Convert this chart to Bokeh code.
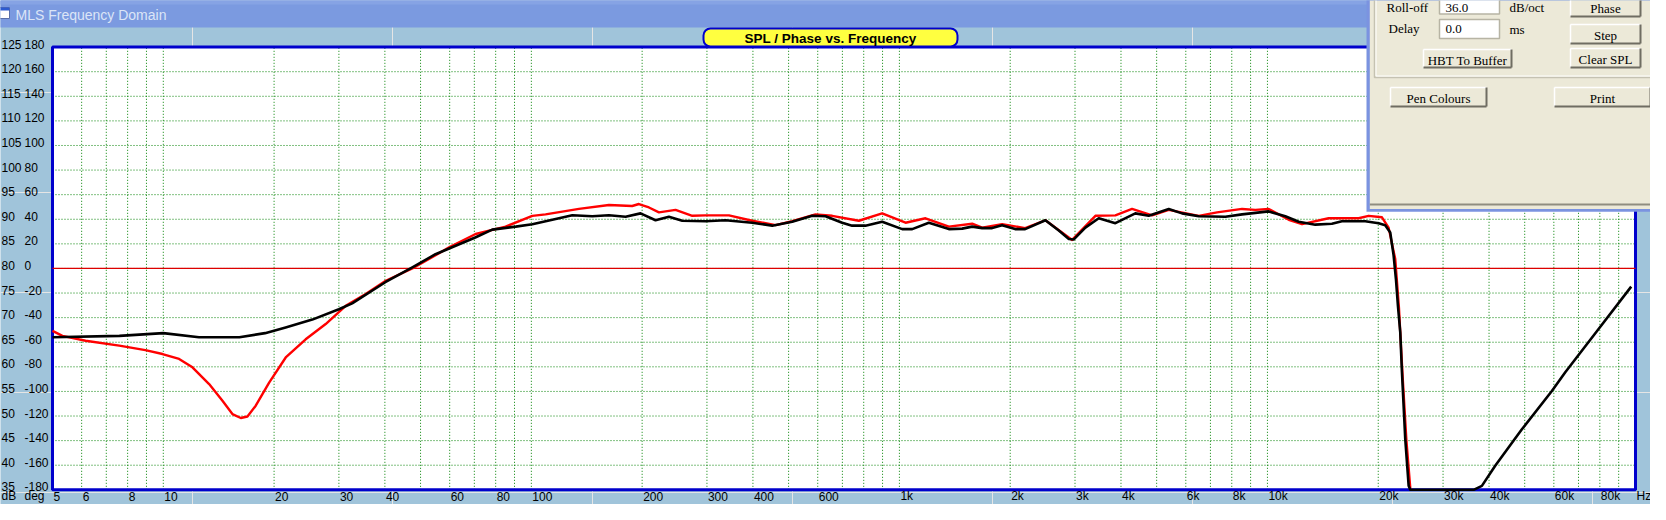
import math
from bokeh.plotting import figure
from bokeh.models import Range1d, LogScale
from bokeh.core.properties import value
from bokeh.embed import file_html
from bokeh.resources import INLINE

# ---------------- data ----------------
black_freq = [5.0, 7.6, 10.0, 12.5, 16.1, 18.9, 21.5, 25.4, 30.0, 32.6, 40.1, 47.5, 54.9, 70.4, 78.3,
              90.7, 100.6, 118.9, 129.2, 146.4, 162.5, 180.3, 198.0, 217.5, 236.5, 257.0, 297.4, 337.0,
              398.1, 451.4, 511.3, 579.5, 629.9, 699.0, 744.0, 808.6, 897.8, 1017.8, 1083.5, 1202.3,
              1362.8, 1481.2, 1576.7, 1678.6, 1786.3, 1901.2, 2062.5, 2195.7, 2492.9, 2710.6, 2886.5,
              2977.7, 3200.8, 3480.9, 3861.8, 4375.6, 4758.1, 5393.4, 5860.5, 6505.7, 7685.5, 8531.7,
              10079, 11183, 12162, 13490, 14968, 15929, 18434, 20050, 20894, 21559, 22021, 22343, 22623,
              22954, 23199, 23684, 24192, 24438, 36319, 38250, 41575, 49126, 59263, 64442, 79381, 97350]
black_db = [66.0, 66.3, 66.85, 66.0, 66.0, 66.85, 68.0, 69.6, 71.7, 72.9, 77.2, 80.2, 82.9, 86.3, 87.9,
            88.5, 89.0, 90.2, 90.8, 90.6, 90.8, 90.5, 91.2, 89.8, 90.5, 89.7, 89.6, 89.8,
            89.3, 88.7, 89.5, 90.7, 90.6, 89.3, 88.7, 88.7, 89.5, 88.0, 88.0, 89.3,
            88.0, 88.1, 88.5, 88.2, 88.2, 88.8, 88.0, 88.0, 89.8, 87.7, 86.0,
            85.9, 88.3, 90.2, 89.2, 91.2, 90.7, 92.1, 91.2, 90.6, 90.5, 91.0,
            91.6, 90.6, 89.5, 88.9, 89.1, 89.6, 89.6, 89.2, 88.8, 87.3, 82.6, 77.8, 72.4,
            67.0, 58.9, 45.3, 35.8, 35.0, 35.0, 35.8, 39.9, 47.3, 55.1, 58.9, 67.7, 76.3]

red_freq = [5.0, 5.32, 6.15, 7.59, 8.94, 9.95, 11.04, 12.0, 13.32, 14.48, 15.41, 16.24, 16.93, 17.83,
            19.39, 21.51, 24.37, 27.62, 31.30, 35.47, 40.21, 47.51, 56.15, 59.77, 70.58, 85.1, 100.6,
            109.3, 134.7, 162.5, 187.9, 196.0, 208.7, 222.2, 246.5, 273.7, 297.4, 344.3, 398.1, 460.9,
            511.3, 591.5, 656.7, 776.0, 897.8, 1039.2, 1177.5, 1362.8, 1576.7, 1678.6, 1901.2, 2195.7,
            2492.9, 2946.7, 3408.8, 3861.8, 4286.9, 4859.7, 5393.4, 6505.7, 7297.4, 8531.7, 9269.0,
            10079, 11426, 12415, 14661, 17695, 18837, 20469, 21341, 22244, 22765, 23295, 23854, 24460]
red_db = [67.3, 66.3, 65.3, 64.3, 63.4, 62.6, 61.6, 59.9, 56.5, 53.1, 50.4, 49.6, 49.9, 52.1,
          56.8, 61.9, 65.6, 68.7, 72.4, 74.8, 77.5, 80.0, 83.1, 84.3, 87.0, 88.5, 90.7,
          91.0, 92.1, 92.9, 92.7, 93.1, 92.4, 91.4, 91.9, 90.7, 90.8, 90.8, 89.7, 88.8,
          89.6, 91.0, 90.7, 89.7, 91.2, 89.3, 90.2, 88.5, 89.1, 88.3, 89.0, 88.2,
          89.8, 85.8, 90.7, 90.8, 92.1, 90.8, 91.9, 90.7, 91.4, 92.1, 91.9,
          92.1, 89.9, 89.0, 90.2, 90.2, 90.7, 90.4, 88.3, 81.9, 72.0, 58.0, 45.0, 35.0]

zero_phase_db = 80  # 0 deg / 80 dB reference line

x_tick_values = [5, 6, 8, 10, 20, 30, 40, 60, 80, 100, 200, 300, 400, 600, 1000, 2000, 3000, 4000,
                 6000, 8000, 10000, 20000, 30000, 40000, 60000, 80000]
x_tick_labels = ["5", "6", "8", "10", "20", "30", "40", "60", "80", "100", "200", "300", "400", "600",
                 "1k", "2k", "3k", "4k", "6k", "8k", "10k", "20k", "30k", "40k", "60k", "80k"]
db_ticks = [35, 40, 45, 50, 55, 60, 65, 70, 75, 80, 85, 90, 95, 100, 105, 110, 115, 120, 125]
deg_ticks = [-180, -160, -140, -120, -100, -80, -60, -40, -20, 0, 20, 40, 60, 80, 100, 120, 140, 160, 180]
x_grid = [m * 10 ** e for e in range(0, 5) for m in range(1, 10) if 5 <= m * 10 ** e <= 90000]
db_grid = db_ticks[1:-1]

# ---------------- geometry (window pixels) ----------------
WX0, WX1, WY0, WY1 = 8, 1658, 8, 512
PL, PR, PT, PB = 60.0, 1643.0, 54.6, 497.3
F_MIN, F_MAX = 5.0, 100000.0
DB_MIN, DB_MAX = 35.0, 125.0
ppd = (PR - PL) / math.log10(F_MAX / F_MIN)
f_lo = F_MIN * 10 ** ((WX0 - PL) / ppd)
f_hi = F_MAX * 10 ** ((WX1 - PR) / ppd)
ppdb = (PB - PT) / (DB_MAX - DB_MIN)
db_lo = DB_MIN - (WY1 - PB) / ppdb
db_hi = DB_MAX + (PT - WY0) / ppdb

LIGHT = "#a0c4da"
TITLEBAR = "#7b9ae0"
BEIGE = "#ece9d8"
FRAME_BLUE = "#0000cc"
SANS = value("Liberation Sans")
SERIF = value("Liberation Serif")
XLAB_Y = 503.5

p = figure(width=WX1 - WX0, height=WY1 - WY0, x_range=Range1d(WX0, WX1), y_range=Range1d(WY1, WY0),
           x_axis_location=None, y_axis_location=None, toolbar_location=None, tools="",
           output_backend="svg", min_border=0, title=None)
p.extra_x_ranges = {"f": Range1d(f_lo, f_hi)}
p.extra_x_scales = {"f": LogScale()}
p.extra_y_ranges = {"db": Range1d(db_lo, db_hi)}
p.outline_line_color = None
p.background_fill_color = LIGHT
p.border_fill_color = LIGHT

# window title bar
p.quad(left=0, right=1670, top=0, bottom=35, fill_color=TITLEBAR, line_color=None)
p.quad(left=0, right=1670, top=0, bottom=12, fill_color="#86a3e4", line_color=None)
p.quad(left=3, right=17, top=15, bottom=26, fill_color="white", line_color="#5a6fa8", line_width=1)
p.quad(left=3, right=17, top=15, bottom=18, fill_color="#2d5bd0", line_color=None)
p.text(x=[23], y=[22], text=["MLS Frequency Domain"], text_font=SANS, text_font_size="14px",
       text_color="#dbe5f7", text_align="left", text_baseline="middle")

# plot area
kw = dict(x_range_name="f", y_range_name="db")
p.quad(left=[F_MIN], right=[F_MAX], bottom=[DB_MIN], top=[DB_MAX], fill_color="white", line_color=None, **kw)
p.segment(x0=x_grid, y0=[DB_MIN] * len(x_grid), x1=x_grid, y1=[DB_MAX] * len(x_grid),
          line_color="#008000", line_width=1, line_dash="1 2", **kw)
p.segment(x0=[F_MIN] * len(db_grid), y0=db_grid, x1=[F_MAX] * len(db_grid), y1=db_grid,
          line_color="#008000", line_width=1, line_dash="1 2", **kw)
p.quad(left=[F_MIN], right=[F_MAX], bottom=[DB_MIN], top=[DB_MAX], fill_color=None,
       line_color=FRAME_BLUE, line_width=3, **kw)
p.segment(x0=[F_MIN], y0=[zero_phase_db], x1=[F_MAX], y1=[zero_phase_db], line_color="#dd0000",
          line_width=1.2, **kw)
p.line(red_freq, red_db, line_color="#ff0000", line_width=2.4, line_join="round", **kw)
p.line(black_freq, black_db, line_color="#000000", line_width=2.6, line_join="round", **kw)

# title badge
p.quad(left=711, right=965, top=36, bottom=54, fill_color="#ffff40", line_color=FRAME_BLUE,
       line_width=2, border_radius=7)
p.text(x=[838], y=[45.5], text=["SPL / Phase vs. Frequency"], text_font=SANS, text_font_size="13.5px",
       text_font_style="bold", text_color="black", text_align="center", text_baseline="middle")

# axis labels
p.text(x=[9] * len(db_ticks), y=db_ticks, text=[str(v) for v in db_ticks], text_font=SANS,
       text_font_size="12px", text_color="black", text_align="left", text_baseline="middle",
       y_offset=-3, y_range_name="db")
p.text(x=[32] * len(deg_ticks), y=db_ticks, text=[str(v) for v in deg_ticks], text_font=SANS,
       text_font_size="12px", text_color="black", text_align="left", text_baseline="middle",
       y_offset=-3, y_range_name="db")
p.text(x=x_tick_values, y=[XLAB_Y] * len(x_tick_values), text=x_tick_labels, text_font=SANS,
       text_font_size="12px", text_color="black", text_align="left", text_baseline="middle",
       x_offset=1, x_range_name="f")
p.text(x=[9, 32], y=[XLAB_Y, XLAB_Y], text=["dB", "deg"], text_font=SANS, text_font_size="12px",
       text_color="black", text_align="left", text_baseline="middle")
p.text(x=[F_MAX], y=[XLAB_Y], text=["Hz"], text_font=SANS, text_font_size="12px", text_color="black",
       text_align="left", text_baseline="middle", x_offset=1, x_range_name="f")

# control panel (top right)
p.quad(left=1374, right=1670, top=0, bottom=219.3, fill_color="#7b93e0", line_color=None)
p.quad(left=1377.3, right=1670, top=0, bottom=216.5, fill_color=BEIGE, line_color=None)
p.segment(x0=[1377.3], y0=[212], x1=[1670], y1=[212], line_color="#8f8d80", line_width=2)
p.line([1382, 1382, 1661.5, 1661.5], [0, 85, 85, 0], line_color="#c5c2b2", line_width=1.5)
p.line([1383.5, 1383.5, 1660, 1660], [0, 83.5, 83.5, 0], line_color="white", line_width=1)

tb = [(1447, 1507, 0, 21.5), (1447, 1507, 27, 46)]
p.quad(left=[b[0] for b in tb], right=[b[1] for b in tb], top=[b[2] for b in tb],
       bottom=[b[3] for b in tb], fill_color="white", line_color="#b7b4a4", line_width=1.5)

btns = [("HBT To Buffer", 1431, 1519, 57, 75), ("Phase", 1578, 1648, 5, 24), ("Step", 1578, 1648, 32, 51),
        ("Clear SPL", 1578, 1648, 56, 75), ("Pen Colours", 1398, 1494, 95, 114), ("Print", 1562, 1658, 95, 114)]
L = [b[1] for b in btns]
R = [b[2] for b in btns]
T = [b[3] for b in btns]
B = [b[4] for b in btns]
p.quad(left=L, right=R, top=T, bottom=B, fill_color=BEIGE, line_color=None)
p.segment(x0=L + L, y0=T + T, x1=R + L, y1=T + B, line_color="white", line_width=1.5)
p.segment(x0=L + R, y0=B + T, x1=R + R, y1=B + B, line_color="#6f6d62", line_width=2)
p.text(x=[(b[1] + b[2]) / 2 for b in btns], y=[(b[3] + b[4]) / 2 + 1.5 for b in btns],
       text=[b[0] for b in btns], text_font=SERIF, text_font_size="13px", text_color="black",
       text_align="center", text_baseline="middle")
p.text(x=[1394, 1453, 1517, 1396, 1453, 1517], y=[15, 15, 15, 36, 36.5, 36.5],
       text=["Roll-off", "36.0", "dB/oct", "Delay", "0.0", "ms"], text_font=SERIF,
       text_font_size="13px", text_color="black", text_align="left", text_baseline="middle")

open("out.html", "w").write(file_html(p, INLINE))
